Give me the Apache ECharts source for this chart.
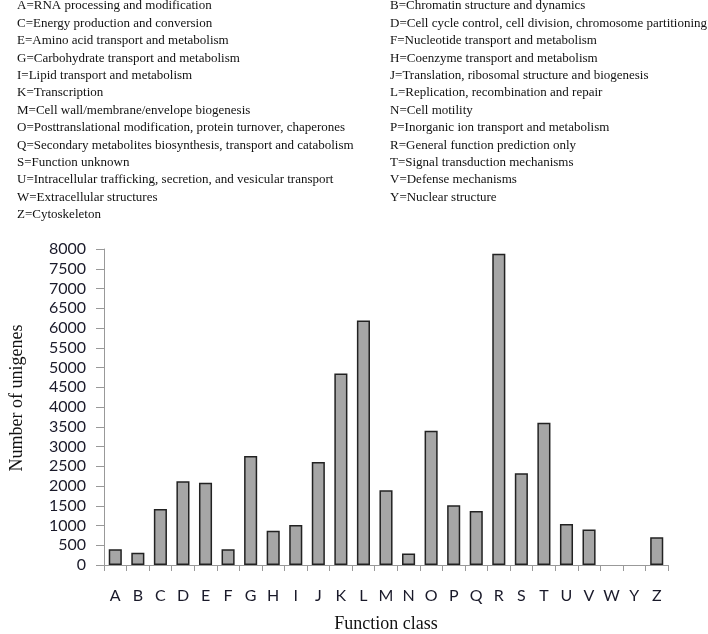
<!DOCTYPE html>
<html>
<head>
<meta charset="utf-8">
<script src="https://cdn.jsdelivr.net/npm/echarts@6/dist/echarts.min.js"></script>
<style>html,body{margin:0;padding:0;background:#fff}#c{width:708px;height:634px}</style>
</head>
<body>
<div id="c"></div>
<script>
const categories = ['A','B','C','D','E','F','G','H','I','J','K','L','M','N','O','P','Q','R','S','T','U','V','W','Y','Z'];
const values = [400,310,1420,2120,2080,400,2760,870,1010,2610,4850,6190,1890,290,3400,1510,1370,7880,2320,3600,1040,900,0,0,700];
const legendLeft = [
  'A=RNA processing and modification',
  'C=Energy production and conversion',
  'E=Amino acid transport and metabolism',
  'G=Carbohydrate transport and metabolism',
  'I=Lipid transport and metabolism',
  'K=Transcription',
  'M=Cell wall/membrane/envelope biogenesis',
  'O=Posttranslational modification, protein turnover, chaperones',
  'Q=Secondary metabolites biosynthesis, transport and catabolism',
  'S=Function unknown',
  'U=Intracellular trafficking, secretion, and vesicular transport',
  'W=Extracellular structures',
  'Z=Cytoskeleton'
];
const legendRight = [
  'B=Chromatin structure and dynamics',
  'D=Cell cycle control, cell division, chromosome partitioning',
  'F=Nucleotide transport and metabolism',
  'H=Coenzyme transport and metabolism',
  'J=Translation, ribosomal structure and biogenesis',
  'L=Replication, recombination and repair',
  'N=Cell motility',
  'P=Inorganic ion transport and metabolism',
  'R=General function prediction only',
  'T=Signal transduction mechanisms',
  'V=Defense mechanisms',
  'Y=Nuclear structure'
];

const serif = '"Liberation Serif", "DejaVu Serif", serif';
const sans = 'Lato, "Open Sans", sans-serif';

const graphics = [];
function addCol(list, x) {
  list.forEach((t, i) => graphics.push({
    type:'text', x:x, y:6 + i*17.4,
    style:{text:t, font:'13px ' + serif, fill:'#111', verticalAlign:'middle', align:'left'}
  }));
}
addCol(legendLeft, 17);
addCol(legendRight, 390);

const chart = echarts.init(document.getElementById('c'));
chart.setOption({
  animation:false,
  graphic: graphics,
  grid:{left:100, right:40, top:249, bottom:69},
  xAxis:{
    type:'category', data:categories,
    name:'Function class', nameLocation:'middle', nameGap:50,
    nameTextStyle:{fontFamily:serif, fontSize:18, color:'#111'},
    axisLine:{lineStyle:{color:'#999', width:1}},
    axisTick:{show:true, length:6, alignWithLabel:false, lineStyle:{color:'#999'}},
    axisLabel:{fontFamily:sans, fontSize:16, color:'#1a1a2a', margin:23, interval:0}
  },
  yAxis:{
    type:'value', min:0, max:8000, interval:500,
    name:'Number of unigenes', nameLocation:'middle', nameGap:78,
    nameTextStyle:{fontFamily:serif, fontSize:18, color:'#111', padding:[0,0,0,18]},
    axisLine:{show:true, lineStyle:{color:'#999', width:1}},
    axisTick:{show:true, length:8, lineStyle:{color:'#999'}},
    splitLine:{show:false},
    axisLabel:{fontFamily:sans, fontSize:16, color:'#1a1a2a', margin:18, formatter:(v)=>String(v)}
  },
  series:[{
    type:'bar',
    data:values.map(v => ({value:v, itemStyle: v === 0 ? {borderWidth:0} : {}})),
    barCategoryGap:'42%',
    itemStyle:{color:'#a6a6a6', borderColor:'#222', borderWidth:1.5}
  }]
});
</script>
</body>
</html>
